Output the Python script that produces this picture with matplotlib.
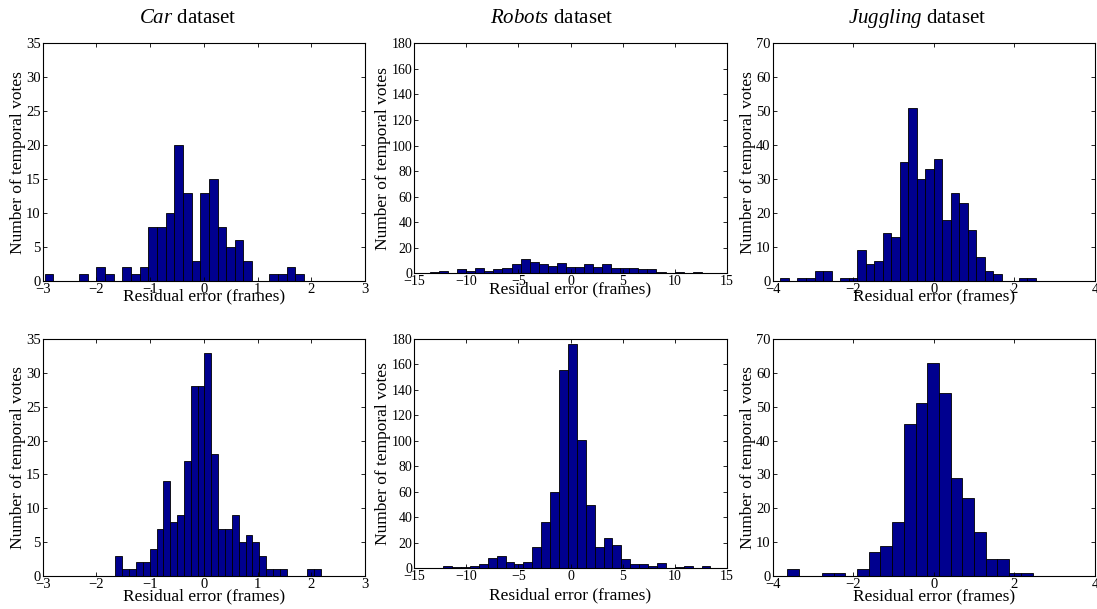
import numpy as np
import matplotlib
matplotlib.use("Agg")
import matplotlib.pyplot as plt

plt.rcParams['font.family'] = ['Liberation Serif', 'DejaVu Serif']
plt.rcParams['mathtext.fontset'] = 'custom'
plt.rcParams['mathtext.it'] = 'Liberation Serif:italic'
plt.rcParams['mathtext.rm'] = 'Liberation Serif'

# histogram counts (MATLAB hist, equal bins between data min and max)
car_top_counts = [1, 0, 0, 0, 1, 0, 2, 1, 0, 2, 1, 2, 8, 8, 10, 20, 13, 3, 13, 15,
                  8, 5, 6, 3, 0, 0, 1, 1, 2, 1]
car_top_range = (-2.966, 1.865)

robots_top_counts = [1, 2, 0, 3, 2, 4, 2, 3, 4, 7, 11, 9, 7, 6, 8, 5, 5, 7, 5, 7,
                     4, 4, 4, 3, 3, 1, 0, 1, 0, 1]
robots_top_range = (-13.495, 12.605)

juggling_top_counts = [1, 0, 1, 1, 3, 3, 0, 1, 1, 9, 5, 6, 14, 13, 35, 51, 30, 33, 36, 18,
                       26, 23, 15, 7, 3, 2, 0, 0, 1, 1]
juggling_top_range = (-3.808, 2.534)

car_bot_counts = [3, 1, 1, 2, 2, 4, 7, 14, 8, 9, 17, 28, 28, 33, 18, 7, 7, 9, 5, 6,
                  5, 3, 1, 1, 1, 0, 0, 0, 1, 1]
car_bot_range = (-1.647, 2.181)

robots_bot_counts = [2, 1, 1, 2, 3, 8, 10, 5, 3, 5, 17, 36, 60, 156, 176, 101, 50, 17, 24, 18,
                     7, 3, 3, 2, 4, 0, 1, 2, 0, 2]
robots_bot_range = (-12.228, 13.438)

juggling_bot_counts = [2, 0, 0, 1, 1, 0, 2, 7, 9, 16, 45, 51, 63, 54, 29, 23, 13, 5, 5, 1, 1]
juggling_bot_range = (-3.649, 2.449)

titles = [r"$\it{Car}$ dataset", r"$\it{Robots}$ dataset", r"$\it{Juggling}$ dataset"]
xlims = [(-3, 3), (-15, 15), (-4, 4)]
xticks = [np.arange(-3, 4, 1), np.arange(-15, 16, 5), np.arange(-4, 5, 2)]
ylims = [35, 180, 70]
ysteps = [5, 20, 10]

panels = [
    (car_top_counts, car_top_range), (robots_top_counts, robots_top_range),
    (juggling_top_counts, juggling_top_range),
    (car_bot_counts, car_bot_range), (robots_bot_counts, robots_bot_range),
    (juggling_bot_counts, juggling_bot_range),
]

W, H = 1097, 609
# axes boxes in pixels: left, top, right, bottom
boxes = [
    (42.7, 43.3, 365.0, 281.0), (414.3, 43.3, 726.7, 273.3), (772.7, 43.3, 1095.0, 281.0),
    (42.7, 339.0, 365.0, 576.0), (414.3, 339.0, 726.7, 568.3), (772.7, 339.0, 1095.0, 576.0),
]
xlabel_pads = [-5.5, -5, -5.5, -2, 3, -2]

fig = plt.figure(figsize=(W / 100, H / 100), dpi=100)
bar_color = '#00008f'

for i, ((counts, (lo, hi)), (l, t, r, b)) in enumerate(zip(panels, boxes)):
    col = i % 3
    ax = fig.add_axes([l / W, 1 - b / H, (r - l) / W, (b - t) / H])
    edges = np.linspace(lo, hi, len(counts) + 1)
    ax.bar(edges[:-1], counts, width=np.diff(edges), align='edge',
           color=bar_color, edgecolor='black', linewidth=0.6)
    ax.set_xlim(*xlims[col])
    ax.set_ylim(0, ylims[col])
    ax.set_xticks(xticks[col])
    ax.set_yticks(np.arange(0, ylims[col] + 1, ysteps[col]))
    fs = 10.5 if col != 1 else 10
    ax.tick_params(direction='in', top=True, right=True, length=3, width=0.6,
                   labelsize=fs, pad=1.5)
    for s in ax.spines.values():
        s.set_linewidth(0.8)
    ax.set_xlabel("Residual error (frames)", fontsize=12.5, labelpad=xlabel_pads[i])
    ax.set_ylabel("Number of temporal votes", fontsize=12.5, labelpad=0)

# column titles
for x, txt in zip([188, 552, 917], titles):
    fig.text(x / W, 1 - 22.7 / H, txt, ha='center', va='baseline', fontsize=15)

fig.savefig("out.png", dpi=100)
